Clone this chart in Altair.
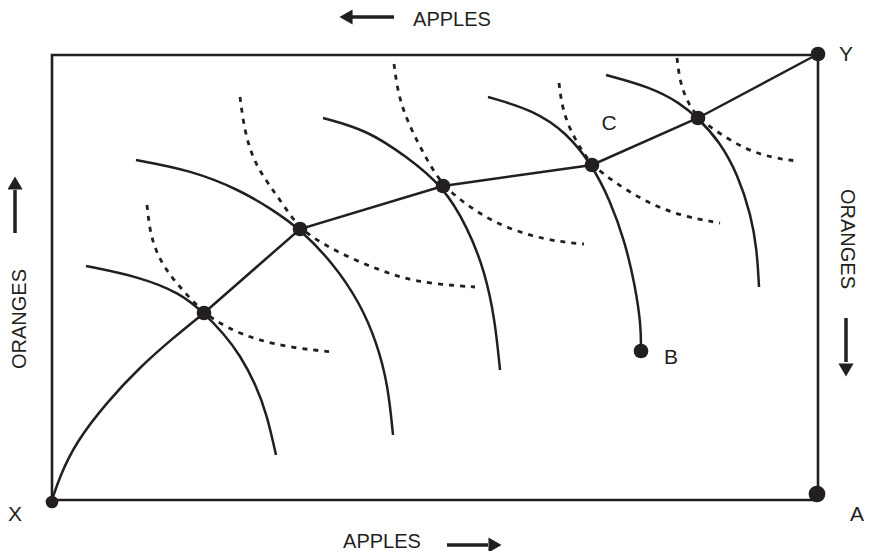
import altair as alt
import pandas as pd

# Box size (apples along the bottom, oranges up the side)
BOX_APPLES = 766
BOX_ORANGES = 445

# Contract curve: curved part from X to first tangency, then straight segments to Y
cc_curve_a = [0, 8, 24, 55, 88, 121, 152]
cc_curve_o = [0, 24, 58, 98, 133, 162, 187]
cc_line_a = [152, 248, 391, 540, 646, 766]
cc_line_o = [187, 271, 314, 335, 382, 446]

# Solid indifference curves
s1_a = [34, 88, 128, 152, 172, 188, 204, 215, 224]
s1_o = [234, 223, 207, 187, 166, 145, 115, 85, 45]
s2_a = [84, 138, 188, 221, 248, 281, 308, 325, 336, 341]
s2_o = [340, 330, 310, 290, 271, 237, 197, 157, 115, 65]
s3_a = [271, 315, 355, 391, 416, 433, 443, 448]
s3_o = [382, 370, 343, 314, 272, 228, 180, 130]
s4_a = [436, 481, 515, 540, 558, 573, 583, 589, 589]
s4_o = [403, 390, 367, 335, 300, 258, 215, 175, 149]
s5_a = [554, 598, 628, 646, 668, 686, 699, 705, 707]
s5_o = [425, 413, 397, 382, 358, 325, 285, 250, 213]

# Dashed indifference curves
d1_a = [95, 98, 106, 120, 135, 152, 175, 205, 241, 281]
d1_o = [295, 267, 243, 222, 205, 187, 172, 160, 152, 148]
d2_a = [188, 191, 196, 205, 218, 232, 248, 271, 298, 325, 350, 381, 423]
d2_o = [403, 380, 356, 333, 314, 294, 271, 256, 242, 231, 222, 216, 213]
d3_a = [342, 345, 351, 361, 375, 391, 415, 441, 475, 508, 532]
d3_o = [436, 413, 390, 367, 340, 314, 295, 278, 265, 258, 256]
d4_a = [507, 510, 518, 530, 540, 562, 592, 628, 668]
d4_o = [417, 393, 370, 349, 335, 318, 299, 284, 277]
d5_a = [625, 628, 636, 646, 668, 695, 721, 745]
d5_o = [442, 417, 397, 382, 366, 350, 342, 339]

# Dots
big_names = ["A"]
big_a = [765]
big_o = [6]
mid_names = ["Y", "B", "P1", "P2", "P3", "P4", "P5"]
mid_a = [766, 589, 152, 248, 391, 540, 646]
mid_o = [446, 149, 187, 271, 314, 335, 382]
small_names = ["X"]
small_a = [0]
small_o = [-2]

# Point labels
lab_text = ["Y", "X", "A", "B", "C"]
lab_a = [794, -37, 805, 619, 557]
lab_o = [445, -15, -15, 142, 376]

# Axis titles with arrows
title_text = ["APPLES", "APPLES", "ORANGES", "ORANGES"]
title_a = [400, 330, -32, 795]
title_o = [480, -42, 181, 261]
title_angle = [0, 0, 270, 90]

arrow_a1 = [300, 395, -37, 794]
arrow_o1 = [483, -45, 267, 182]
arrow_a2 = [342, 436, -37, 794]
arrow_o2 = [483, -45, 310, 138]
head_a = [294, 443, -37, 794]
head_o = [483, -45, 317, 130]
head_shape = ["triangle-left", "triangle-right", "triangle-up", "triangle-down"]

INK = "#231f20"
FONT = "Liberation Sans"
XS = alt.Scale(domain=[-44, 812], nice=False, zero=False)
YS = alt.Scale(domain=[-51, 492], nice=False, zero=False)


def frame(names_pairs):
    rows = []
    for name, xs, ys in names_pairs:
        for i, (a, o) in enumerate(zip(xs, ys)):
            rows.append({"curve": name, "apples": a, "oranges": o, "i": i})
    return pd.DataFrame(rows)


def xy():
    return dict(
        x=alt.X("apples:Q", scale=XS, axis=None),
        y=alt.Y("oranges:Q", scale=YS, axis=None),
    )


solid_df = frame([("s1", s1_a, s1_o), ("s2", s2_a, s2_o), ("s3", s3_a, s3_o),
                  ("s4", s4_a, s4_o), ("s5", s5_a, s5_o), ("cc", cc_curve_a, cc_curve_o)])
dash_df = frame([("d1", d1_a, d1_o), ("d2", d2_a, d2_o), ("d3", d3_a, d3_o),
                 ("d4", d4_a, d4_o), ("d5", d5_a, d5_o)])
cc_df = frame([("line", cc_line_a, cc_line_o)])

box_df = pd.DataFrame({"a0": [0], "a1": [BOX_APPLES], "o0": [0], "o1": [BOX_ORANGES]})

box = alt.Chart(box_df).mark_rect(fill="transparent", stroke=INK, strokeWidth=2.6).encode(
    x=alt.X("a0:Q", scale=XS, axis=None), x2="a1:Q",
    y=alt.Y("o0:Q", scale=YS, axis=None), y2="o1:Q",
)

solid = alt.Chart(solid_df).mark_line(color=INK, strokeWidth=2.5, interpolate="basis").encode(
    **xy(), detail="curve:N", order="i:Q"
)
dashed = alt.Chart(dash_df).mark_line(color=INK, strokeWidth=2.8, strokeDash=[5, 6],
                                      interpolate="basis").encode(
    **xy(), detail="curve:N", order="i:Q"
)
cc_line = alt.Chart(cc_df).mark_line(color=INK, strokeWidth=2.5).encode(**xy(), order="i:Q")


def dot_layer(names, a, o, size):
    df = pd.DataFrame({"name": names, "apples": a, "oranges": o})
    return alt.Chart(df).mark_circle(color=INK, opacity=1, size=size).encode(**xy())


dots_big = dot_layer(big_names, big_a, big_o, 280)
dots_mid = dot_layer(mid_names, mid_a, mid_o, 215)
dots_small = dot_layer(small_names, small_a, small_o, 160)

labels_df = pd.DataFrame({"t": lab_text, "apples": lab_a, "oranges": lab_o})
labels = alt.Chart(labels_df).mark_text(font=FONT, fontSize=21, color=INK,
                                        align="center", baseline="middle").encode(
    **xy(), text="t:N"
)

title_layers = []
for t, a, o, ang in zip(title_text, title_a, title_o, title_angle):
    tdf = pd.DataFrame({"t": [t], "apples": [a], "oranges": [o]})
    title_layers.append(
        alt.Chart(tdf).mark_text(font=FONT, fontSize=20, color=INK,
                                 align="center", baseline="middle", angle=ang).encode(
            **xy(), text="t:N"
        )
    )

arrow_df = pd.DataFrame({"apples": arrow_a1, "oranges": arrow_o1, "a2": arrow_a2, "o2": arrow_o2})
arrows = alt.Chart(arrow_df).mark_rule(color=INK, strokeWidth=3.5).encode(
    **xy(), x2="a2:Q", y2="o2:Q"
)
head_df = pd.DataFrame({"apples": head_a, "oranges": head_o, "shape": head_shape})
heads = alt.Chart(head_df).mark_point(filled=True, color=INK, opacity=1, size=230).encode(
    **xy(), shape=alt.Shape("shape:N", scale=None, legend=None)
)

chart = alt.layer(box, solid, dashed, cc_line, dots_big, dots_mid, dots_small, labels,
                  *title_layers, arrows, heads).properties(
    width=856, height=543, autosize=alt.AutoSizeParams(type="none"), padding=0
).configure_view(stroke=None)

chart.save("out.html", embed_options={"renderer": "svg", "actions": False})
